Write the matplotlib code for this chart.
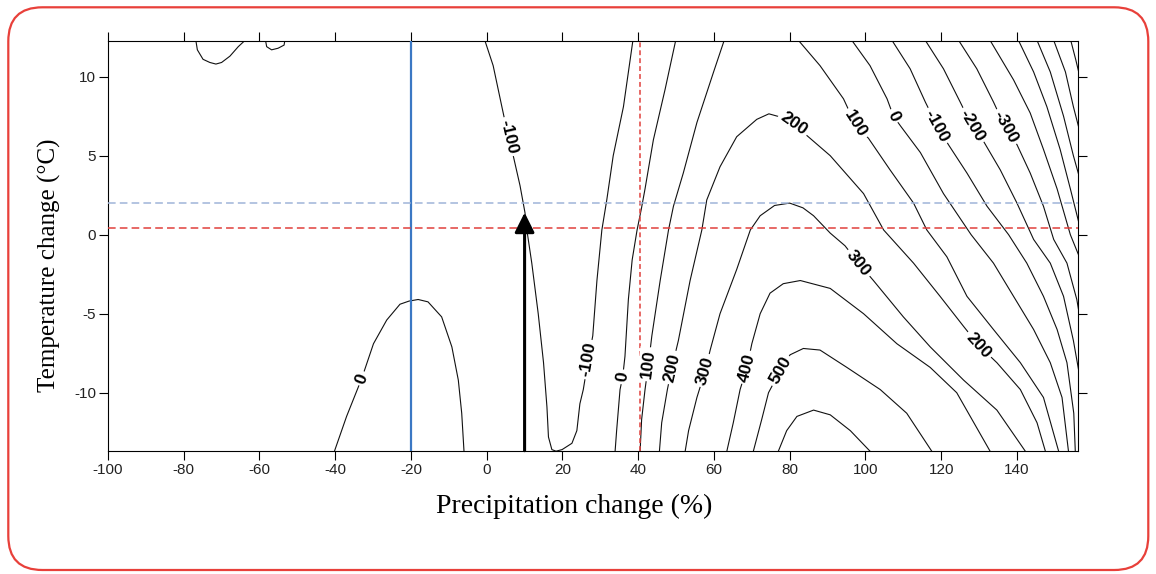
import math
import matplotlib.pyplot as plt
from matplotlib.patches import FancyBboxPatch
from matplotlib.transforms import IdentityTransform

plt.rcParams['font.family'] = ['Liberation Sans', 'DejaVu Sans']
plt.rcParams['axes.unicode_minus'] = False
plt.rcParams['lines.scale_dashes'] = False

# axes
x_lim = (-100, 156.2)
y_lim = (-13.67, 12.26)
x_ticks = [-100, -80, -60, -40, -20, 0, 20, 40, 60, 80, 100, 120, 140]
y_ticks = [-10, -5, 0, 5, 10]

# marker lines
p_blue = -20      # solid blue vertical
p_red = 40.5      # dashed red vertical
t_blue = 2.0      # dashed blue horizontal
t_red = 0.4       # dashed red horizontal
arrow_p = 10
arrow_t = 1.4

# contour paths: (precip %, temp C)
c_blob_a = [(-76.8, 12.3), (-76.4, 11.7), (-74.9, 11.1), (-73.1, 10.9), (-71.5, 10.8),
            (-70.0, 10.9), (-67.8, 11.3), (-65.6, 11.9), (-63.8, 12.3)]
c_blob_b = [(-58.4, 12.3), (-58.1, 11.9), (-56.8, 11.7), (-55.1, 11.8), (-53.5, 12.0), (-53.3, 12.3)]

c_0_left = [(-40.2, -13.7), (-37.0, -11.5), (-33.0, -9.1), (-29.9, -6.9), (-26.4, -5.4),
            (-22.9, -4.4), (-20.5, -4.2), (-18.1, -4.1), (-15.5, -4.25), (-11.9, -5.2),
            (-9.2, -7.1), (-7.5, -9.2), (-6.6, -11.3), (-6.0, -13.7)]

c_m100_u = [(-0.5, 12.3), (1.7, 10.7), (4.0, 8.1), (5.7, 6.2), (7.0, 5.0), (8.8, 3.1),
            (10.1, 1.4), (10.6, 0.3), (11.9, -1.8), (13.6, -5.0), (15.0, -8.1), (15.9, -10.9),
            (16.3, -12.8), (17.2, -13.6), (18.3, -13.7), (19.9, -13.6), (22.5, -13.2),
            (23.8, -12.4), (24.6, -10.7), (25.5, -9.8), (26.8, -7.9), (28.0, -6.4),
            (29.1, -2.9), (30.4, 0.3), (31.7, 2.2), (33.4, 5.0), (36.1, 8.1), (38.6, 12.3)]

c_0_mid = [(33.9, -13.7), (34.3, -12.4), (35.2, -9.8), (35.9, -9.0), (36.5, -7.7), (37.4, -4.1),
           (38.4, -1.6), (39.7, 0.3), (40.8, 1.6), (41.8, 2.9), (44.0, 6.0), (47.1, 9.2), (49.9, 12.3)]

c_100_left = [(40.5, -13.7), (40.9, -11.7), (41.8, -9.8), (42.7, -8.2), (43.6, -6.4), (45.8, -2.9),
              (48.0, 0.3), (49.3, 1.8), (51.9, 3.9), (55.5, 7.1), (59.9, 10.3), (62.7, 12.3)]

c_200 = [(45.6, -13.7), (46.2, -11.9), (47.7, -9.8), (48.9, -8.4), (50.6, -6.7), (53.7, -2.9),
         (56.8, 0.3), (58.1, 2.2), (61.6, 4.3), (66.0, 6.2), (71.3, 7.3), (74.5, 7.65), (77.5, 7.45),
         (81.0, 7.0), (84.9, 6.2), (90.7, 5.0), (99.5, 2.6), (104.8, 0.3), (112.7, -1.8),
         (119.7, -3.9), (125.9, -5.8), (129.9, -7.0), (134.7, -8.1), (140.9, -9.8),
         (145.3, -11.9), (147.5, -13.7)]

c_300 = [(52.4, -13.7), (53.3, -12.4), (55.5, -10.3), (57.7, -8.6), (59.0, -7.3), (61.6, -5.0),
         (66.0, -2.2), (69.6, 0.3), (72.2, 1.2), (76.0, 1.85), (80.0, 2.0), (83.5, 1.7),
         (86.3, 1.2), (90.7, 0.1), (94.6, -0.7), (98.2, -1.8), (102.1, -2.9), (110.0, -5.2),
         (117.1, -7.1), (125.9, -9.2), (134.7, -11.1), (142.2, -13.7)]

c_400 = [(63.4, -13.7), (65.1, -11.9), (66.9, -9.8), (68.7, -8.4), (70.0, -6.9), (72.2, -5.0),
         (74.8, -3.7), (78.3, -3.1), (82.8, -2.9), (90.7, -3.4), (99.5, -5.0), (108.3, -6.9),
         (117.1, -8.4), (124.1, -10.0), (132.9, -13.7)]

c_500 = [(70.4, -13.7), (72.6, -11.7), (74.4, -10.0), (77.5, -8.6), (80.1, -7.6), (83.6, -7.2),
         (88.0, -7.3), (95.1, -8.4), (103.9, -9.8), (110.9, -11.3), (117.5, -13.7)]

c_600 = [(77.0, -13.7), (79.2, -12.4), (81.9, -11.5), (86.3, -11.1), (90.7, -11.4),
         (96.0, -12.4), (101.2, -13.7)]

c_100_right = [(82.3, 12.3), (88.0, 10.7), (94.2, 8.6), (97.3, 7.0), (100.8, 6.1), (106.5, 4.1),
               (112.7, 2.0), (116.2, 0.3), (121.5, -1.4), (126.8, -3.9), (133.8, -6.0),
               (140.9, -8.1), (147.0, -10.3), (151.0, -13.7)]

c_0_right = [(96.4, 12.3), (101.2, 10.7), (105.7, 8.6), (107.4, 7.5), (109.2, 6.9), (114.5, 5.2),
             (120.6, 2.6), (127.9, 0.0), (133.8, -1.8), (139.1, -3.9), (144.4, -6.0),
             (148.8, -8.1), (151.9, -10.3), (153.6, -13.7)]

c_m100_right = [(107.0, 12.3), (111.8, 10.5), (115.8, 8.4), (118.9, 6.9), (121.9, 5.7),
                (126.8, 3.9), (132.1, 1.8), (137.8, 0.0), (142.6, -1.8), (147.0, -3.9),
                (150.6, -6.0), (153.2, -8.1), (155.0, -11.3), (155.4, -13.7)]

c_m200 = [(115.8, 12.3), (120.6, 10.5), (125.0, 8.4), (128.1, 6.9), (131.2, 5.9), (135.6, 4.1),
          (140.0, 2.0), (144.4, -0.3), (148.8, -1.8), (152.3, -3.9), (154.9, -6.7), (156.3, -8.6)]

c_m300 = [(124.6, 12.3), (129.4, 10.5), (133.8, 8.4), (136.9, 6.8), (140.0, 5.7), (143.5, 3.9),
          (147.0, 1.8), (149.7, -0.3), (153.2, -1.8), (155.8, -4.1), (156.3, -4.8)]

c_m400 = [(132.9, 12.3), (139.1, 9.8), (143.5, 7.7), (147.0, 5.4), (150.6, 2.9), (154.1, 0.0), (156.3, -1.3)]
c_m500 = [(140.4, 12.3), (144.4, 10.3), (147.9, 8.1), (151.4, 5.4), (154.1, 2.9), (156.3, 0.8)]
c_m600 = [(145.3, 12.3), (148.8, 10.3), (152.3, 7.5), (154.9, 5.0), (156.3, 3.8)]
c_m700 = [(149.7, 12.3), (152.8, 10.3), (154.9, 8.1), (156.3, 6.8)]
c_m800 = [(154.2, 12.3), (155.5, 11.1), (156.3, 10.3)]

contours = [c_blob_a, c_blob_b, c_0_left, c_m100_u, c_0_mid, c_100_left, c_200, c_300,
            c_400, c_500, c_600, c_100_right, c_0_right, c_m100_right, c_m200, c_m300,
            c_m400, c_m500, c_m600, c_m700, c_m800]

# inline labels: text, path, position
labels = [
    ('-100', c_m100_u, (5.7, 6.2)),
    ('-100', c_m100_u, (26.8, -7.9)),
    ('0', c_0_mid, (35.9, -9.0)),
    ('100', c_100_left, (42.7, -8.2)),
    ('200', c_200, (48.9, -8.4)),
    ('300', c_300, (57.7, -8.6)),
    ('400', c_400, (68.7, -8.4)),
    ('500', c_500, (77.5, -8.6)),
    ('200', c_200, (81.0, 7.0)),
    ('100', c_100_right, (97.3, 7.0)),
    ('0', c_0_right, (107.4, 7.5)),
    ('-100', c_m100_right, (118.9, 6.9)),
    ('-200', c_m200, (128.1, 6.9)),
    ('-300', c_m300, (136.9, 6.8)),
    ('300', c_300, (98.2, -1.8)),
    ('200', c_200, (129.9, -7.0)),
    ('0', c_0_left, (-33.0, -9.1)),
]

fig = plt.figure(figsize=(11.56, 5.74), dpi=100)
ax = fig.add_axes([0.0934, 0.2148, 0.8394, 0.7138])
ax.set_xlim(*x_lim)
ax.set_ylim(*y_lim)

for pts in contours:
    xs, ys = zip(*pts)
    ax.plot(xs, ys, color='#111111', lw=0.8, zorder=2, solid_joinstyle='round')

ax.axvline(p_blue, color='#3b78c4', lw=1.6, zorder=3)
ax.axvline(p_red, color='#e0403c', lw=1.1, dashes=(3.5, 2.2), zorder=3)
ax.axhline(t_blue, color='#9fb4d8', lw=1.1, dashes=(5.5, 3.0), zorder=3)
ax.axhline(t_red, color='#e0403c', lw=1.1, dashes=(5.5, 3.0), zorder=3)


def label_angle(pts, i):
    a = pts[max(i - 1, 0)]
    b = pts[min(i + 1, len(pts) - 1)]
    (x0, y0), (x1, y1) = ax.transData.transform([a, b])
    ang = math.degrees(math.atan2(y1 - y0, x1 - x0))
    if ang > 90:
        ang -= 180
    if ang < -90:
        ang += 180
    return ang


for txt, pts, (lx, ly) in labels:
    i = min(range(len(pts)), key=lambda k: (pts[k][0] - lx) ** 2 + (pts[k][1] - ly) ** 2)
    ax.text(lx, ly, txt, rotation=label_angle(pts, i), rotation_mode='anchor',
            ha='center', va='center', fontsize=12.5, fontweight='bold', zorder=4,
            bbox=dict(boxstyle='square,pad=0.15', fc='white', ec='none'))

ax.annotate('', xy=(arrow_p, arrow_t), xytext=(arrow_p, y_lim[0]),
            arrowprops=dict(arrowstyle='-|>,head_length=0.6,head_width=0.3', color='black',
                            lw=2.2, mutation_scale=20, shrinkA=0, shrinkB=0), zorder=5)

ax.set_xticks(x_ticks)
ax.set_yticks(y_ticks)
ax.tick_params(direction='out', length=6.5, width=0.8, top=True, right=True,
               labelsize=11, pad=2, labelcolor='#222222')
for s in ax.spines.values():
    s.set_linewidth(0.8)

ax.set_xlabel('Precipitation change (%)', fontfamily='Liberation Serif', fontsize=20)
ax.xaxis.set_label_coords(0.48, -0.137)
ax.xaxis.label.set_va('center')
ax.set_ylabel('Temperature change (°C)', fontfamily='Liberation Serif', fontsize=18)
ax.yaxis.set_label_coords(-0.06, 0.452)
ax.yaxis.label.set_va('center')

frame = FancyBboxPatch((8.3, 4.0), 1140, 562.7, boxstyle='round,pad=0,rounding_size=34',
                       transform=IdentityTransform(), fill=False, ec='#e8403a', lw=1.6)
fig.add_artist(frame)

fig.savefig('out.png')
